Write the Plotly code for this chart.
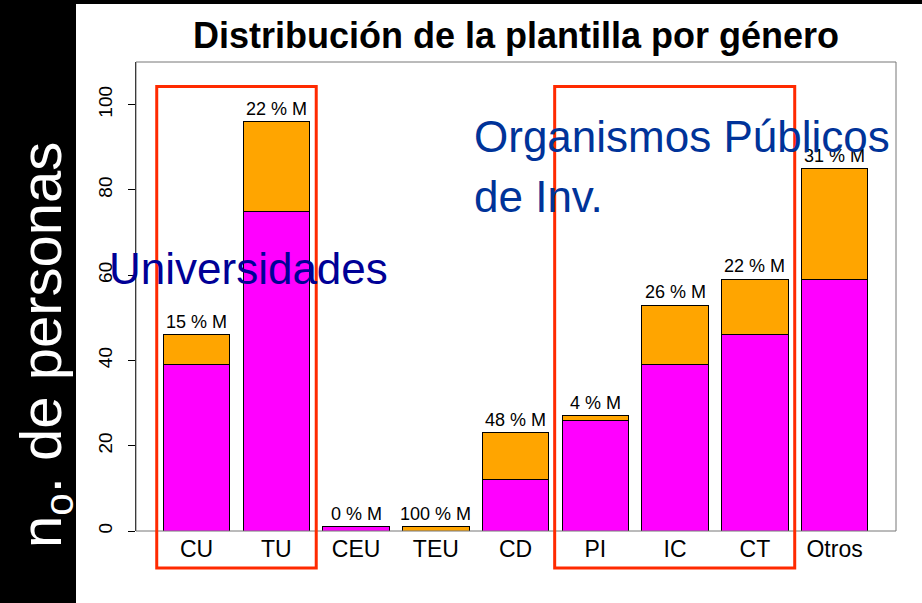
import plotly.graph_objects as go

# ---------------- data ----------------
categorias = ["CU", "TU", "CEU", "TEU", "CD", "PI", "IC", "CT", "Otros"]
hombres = [39, 75, 1, 0, 12, 26, 39, 46, 59]
mujeres = [7, 21, 0, 1, 11, 1, 14, 13, 26]
etiquetas = ["15 % M", "22 % M", "0 % M", "100 % M", "48 % M", "4 % M", "26 % M", "22 % M", "31 % M"]
y_ticks = [0, 20, 40, 60, 80, 100]

titulo = "Distribución de la plantilla por género"
titulo_y = "n<sub>o</sub>. de personas"
grupo_uni = "Universidades"
grupo_opi_1 = "Organismos Públicos"
grupo_opi_2 = "de Inv."

# ---------------- layout helpers ----------------
W, H = 922, 603
ML, MR, MT, MB = 136, 26, 62, 72
XR = [-0.76, 8.77]
YR = [0, 110]
pw = W - ML - MR
ph = H - MT - MB


def px_x(px):
    return (px - ML) / pw


def px_y(py):
    return (H - MB - py) / ph


def cat_x(u):
    return (u - XR[0]) / (XR[1] - XR[0])


FONT = "Liberation Sans, Arial, Helvetica, sans-serif"

fig = go.Figure()
fig.add_trace(go.Bar(x=categorias, y=hombres, name="H",
                     marker=dict(color="#FF00FF", line=dict(color="black", width=1))))
fig.add_trace(go.Bar(x=categorias, y=mujeres, name="M",
                     marker=dict(color="#FFA500", line=dict(color="black", width=1))))

totales = [h + m for h, m in zip(hombres, mujeres)]

annotations = []
for c, t, lab in zip(categorias, totales, etiquetas):
    annotations.append(dict(x=c, y=t, xref="x", yref="y", text=lab, showarrow=False,
                            yanchor="bottom", yshift=1,
                            font=dict(family=FONT, size=18, color="black")))

# group labels
annotations.append(dict(x=px_x(107), y=px_y(268), xref="paper", yref="paper",
                        text=grupo_uni, showarrow=False, xanchor="left", yanchor="middle",
                        font=dict(family=FONT, size=44, color="#000096")))
annotations.append(dict(x=px_x(472), y=px_y(136), xref="paper", yref="paper",
                        text=grupo_opi_1, showarrow=False, xanchor="left", yanchor="middle",
                        font=dict(family=FONT, size=44, color="#003399")))
annotations.append(dict(x=px_x(472), y=px_y(196), xref="paper", yref="paper",
                        text=grupo_opi_2, showarrow=False, xanchor="left", yanchor="middle",
                        font=dict(family=FONT, size=44, color="#003399")))
# y title
annotations.append(dict(x=px_x(45), y=px_y(345), xref="paper", yref="paper",
                        text=titulo_y, showarrow=False, textangle=-90,
                        xanchor="center", yanchor="middle",
                        font=dict(family=FONT, size=58, color="white")))
# title
annotations.append(dict(x=px_x(516), y=px_y(35), xref="paper", yref="paper",
                        text="<b>" + titulo + "</b>", showarrow=False,
                        xanchor="center", yanchor="middle",
                        font=dict(family=FONT, size=36, color="black")))

shapes = [
    # white page area
    dict(type="rect", xref="paper", yref="paper", x0=px_x(76), x1=px_x(W + 5),
         y0=px_y(H + 5), y1=px_y(4), fillcolor="white", line=dict(width=0), layer="below"),
    # plot box
    dict(type="rect", xref="paper", yref="paper", x0=0, x1=1, y0=0, y1=1,
         line=dict(color="#777777", width=1), layer="above"),
    # red group boxes
    dict(type="rect", xref="paper", yref="paper", x0=cat_x(-0.5), x1=cat_x(1.5),
         y0=px_y(568), y1=px_y(86.5), line=dict(color="#FF2A00", width=3), layer="above"),
    dict(type="rect", xref="paper", yref="paper", x0=cat_x(4.49), x1=cat_x(7.5),
         y0=px_y(568), y1=px_y(86.5), line=dict(color="#FF2A00", width=3), layer="above"),
]

fig.update_layout(
    width=W, height=H,
    margin=dict(l=ML, r=MR, t=MT, b=MB, pad=0),
    paper_bgcolor="black",
    plot_bgcolor="white",
    barmode="stack",
    bargap=1 / 6,
    showlegend=False,
    annotations=annotations,
    shapes=shapes,
    font=dict(family=FONT, color="black"),
)
fig.update_xaxes(range=XR, showgrid=False, zeroline=False, showline=False,
                 ticks="", tickfont=dict(family=FONT, size=23, color="black"),
                 ticklabelstandoff=2)
fig.update_yaxes(range=YR, tickvals=y_ticks, showgrid=False, zeroline=False,
                 showline=True, linecolor="black", linewidth=1,
                 ticks="outside", ticklen=7, tickcolor="black", tickangle=-90,
                 tickfont=dict(family=FONT, size=19, color="black"),
                 ticklabelstandoff=8)

fig.write_html("out.html",
               config={"displayModeBar": False},
               post_script="document.body.style.margin='0';document.body.style.overflow='hidden';")
